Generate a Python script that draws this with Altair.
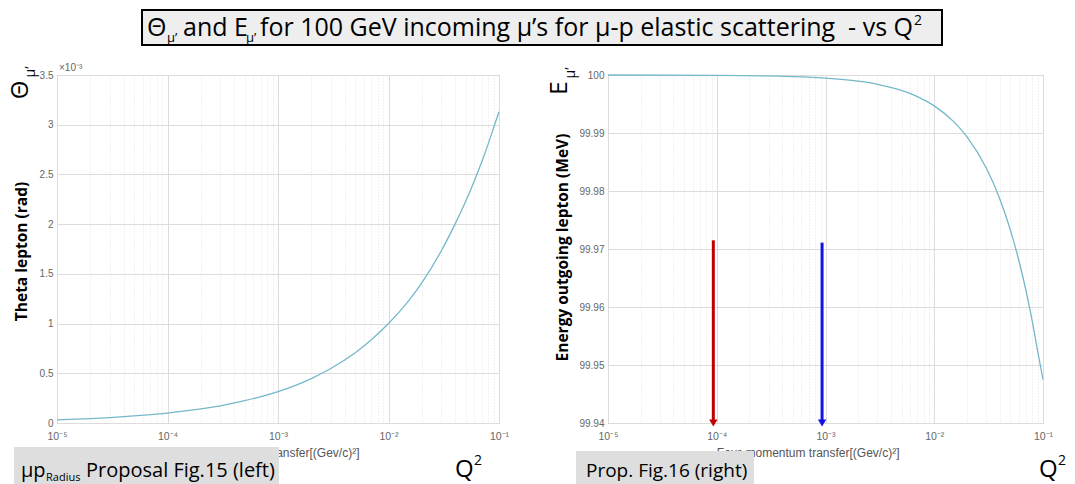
import altair as alt
import pandas as pd

# ---------------- data ----------------
q2_left = [1e-5, 2e-5, 3e-5, 5e-5, 7e-5, 1e-4, 2e-4, 3e-4, 5e-4, 7e-4, 1e-3, 2e-3, 3e-3,
           5e-3, 7e-3, 1e-2, 1.5e-2, 2e-2, 3e-2, 4e-2, 5e-2, 6e-2, 7e-2, 8e-2, 9e-2, 1e-1]
theta_left = [0.032, 0.045, 0.055, 0.071, 0.084, 0.100, 0.141, 0.173, 0.224, 0.265, 0.316,
              0.447, 0.548, 0.707, 0.837, 1.00, 1.22, 1.41, 1.73, 2.00, 2.23, 2.44, 2.63,
              2.81, 2.98, 3.13]

q2_right = [1e-5, 1e-4, 5e-4, 1e-3, 2e-3, 3e-3, 5e-3, 7e-3, 1e-2, 1.5e-2, 2e-2, 3e-2,
            4e-2, 5e-2, 6e-2, 7e-2, 8e-2, 9e-2, 1e-1]
energy_right = [100.0, 99.99995, 99.99973, 99.99947, 99.99893, 99.9984, 99.99733, 99.99627,
                99.99467, 99.992, 99.98934, 99.984, 99.97868, 99.97335, 99.96802, 99.96269,
                99.95736, 99.95203, 99.9475]

arrow_q2 = [9.3e-5, 9.3e-4]
arrow_top = [99.9715, 99.9711]
arrow_colors = ["#c00000", "#1212e6"]

x_tick_values = [m * 10.0 ** k for k in range(-5, -1) for m in range(1, 10)] + [1e-1]
y_left_ticks = [0, 0.5, 1, 1.5, 2, 2.5, 3, 3.5]
y_right_ticks = [99.94, 99.95, 99.96, 99.97, 99.98, 99.99, 100.0]

title_parts = ["Θ", "μ’", "and E", "μ’",
               "for 100 GeV incoming μ’s for μ-p elastic scattering \u00a0- vs Q", "2"]
left_label_parts = ["μp", "Radius", "Proposal Fig.15 (left)"]
right_label_parts = ["Prop. Fig.16 (right)"]
q2_parts = ["Q", "2"]
theta_parts = ["Θ", "μ’"]
energy_parts = ["E", "μ’"]
exp_text = ["×10⁻³"]
x_title = "Four-momentum transfer[(Gev/c)²]"
y_left_title = "Theta lepton (rad)"
y_right_title = "Energy outgoing lepton (MeV)"

# ---------------- styling ----------------
SLIDE_FONT = "'Open Sans', Lato, sans-serif"
AX_FONT = "Liberation Sans, Arial, sans-serif"
CURVE = "#74b8ca"
LW, RW, H = 442, 435, 348

is_major = "abs(log(datum.value)/LN10 - round(log(datum.value)/LN10)) < 0.001"
exp_expr = "round(log(datum.value)/LN10)"
label_expr = (f"!({is_major}) ? '' : ({exp_expr} == -5 ? '10⁻⁵' : {exp_expr} == -4 ? '10⁻⁴' : "
              f"{exp_expr} == -3 ? '10⁻³' : {exp_expr} == -2 ? '10⁻²' : '10⁻¹')")


def x_axis(title_right):
    return alt.Axis(values=x_tick_values, labelExpr=label_expr, title=x_title,
                    grid=True,
                    gridDash={"condition": {"test": is_major, "value": []}, "value": [1, 2]},
                    gridColor={"condition": {"test": is_major, "value": "#dcdcdc"}, "value": "#e2e2e2"},
                    ticks=False, domain=False, labelOverlap=False, labelFlush=False,
                    labelBound=False, labelPadding=8, labelFontSize=10.5, labelColor="#666",
                    labelFont=AX_FONT, titleFont=AX_FONT, titleFontSize=12,
                    titleFontWeight="normal", titleColor="#555", titlePadding=6,
                    titleAlign="right", titleX=title_right)


def y_axis(values, title, tx, ty, fmt):
    return alt.Axis(values=values, format=fmt, title=title, titleX=tx, titleY=ty,
                    titleAngle=270, titleFont=SLIDE_FONT, titleFontWeight="bold",
                    titleFontSize=15.5, titleColor="black", titleAlign="center",
                    titleBaseline="middle",
                    grid=True, gridColor="#dcdcdc", ticks=False, domain=False,
                    labelFont=AX_FONT, labelFontSize=10, labelColor="#666", labelPadding=4,
                    labelOverlap=False)


def txt(s, x, y, size, angle=0, color="black", font=SLIDE_FONT, align="left",
        baseline="alphabetic"):
    return alt.Chart(pd.DataFrame({"t": [s]})).mark_text(
        align=align, baseline=baseline, fontSize=size, font=font, color=color,
        angle=angle).encode(x=alt.value(x), y=alt.value(y), text="t:N")


def box(x1, x2, y1, y2, fill, stroke=None, sw=0):
    kw = dict(fill=fill)
    if stroke:
        kw.update(stroke=stroke, strokeWidth=sw)
    return alt.Chart(pd.DataFrame({"b": [0]})).mark_rect(**kw).encode(
        x=alt.value(x1), x2=alt.value(x2), y=alt.value(y1), y2=alt.value(y2))


xscale = alt.Scale(type="log", domain=[1e-5, 1e-1], nice=False)

# ---------------- left panel ----------------
left_df = pd.DataFrame({"q2": q2_left, "theta": theta_left})
left_line = alt.Chart(left_df).mark_line(color=CURVE, strokeWidth=1.3,
                                         interpolate="monotone").encode(
    x=alt.X("q2:Q", scale=xscale, axis=x_axis(302)),
    y=alt.Y("theta:Q", scale=alt.Scale(domain=[0, 3.5], nice=False),
            axis=y_axis(y_left_ticks, y_left_title, -36, 176, "~g")))

left = alt.layer(
    left_line,
    box(85, 885, -65, -30, "#eeeeee", "black", 2),
    txt(title_parts[0], 90, -39, 25),
    txt(title_parts[1], 110, -33, 13),
    txt(title_parts[2], 126, -39, 25),
    txt(title_parts[3], 189, -33, 13),
    txt(title_parts[4], 203, -39, 25),
    txt(title_parts[5], 857, -50, 14),
    txt(exp_text[0], 2, -4, 10, color="#666", font=AX_FONT),
    txt(theta_parts[0], -36, 15, 24, angle=270, align="center", baseline="middle"),
    txt(theta_parts[1], -26, -3, 14, angle=270, align="center", baseline="middle"),
    box(-43, 222, 372, 411, "#dedede"),
    txt(left_label_parts[0], -36, 402, 20),
    txt(left_label_parts[1], -11, 406, 11),
    txt(left_label_parts[2], 29, 402, 20),
    txt(q2_parts[0], 398, 402, 24),
    txt(q2_parts[1], 417, 390, 14),
).properties(width=LW, height=H)

# ---------------- right panel ----------------
right_df = pd.DataFrame({"q2": q2_right, "energy": energy_right})
arrow_df = pd.DataFrame({"q2": arrow_q2, "top": arrow_top, "c": arrow_colors})
yscale_r = alt.Scale(domain=[99.94, 100.0], nice=False)

right_line = alt.Chart(right_df).mark_line(color=CURVE, strokeWidth=1.3,
                                           interpolate="monotone").encode(
    x=alt.X("q2:Q", scale=xscale, axis=x_axis(291)),
    y=alt.Y("energy:Q", scale=yscale_r,
            axis=y_axis(y_right_ticks, y_right_title, -46, 172, ".4~r")))

arrows = alt.Chart(arrow_df).mark_rule(strokeWidth=3).encode(
    x=alt.X("q2:Q", scale=xscale),
    y=alt.Y("top:Q", scale=yscale_r),
    y2=alt.datum(99.9405),
    color=alt.Color("c:N", scale=None))

heads = alt.Chart(arrow_df).mark_point(shape="triangle-down", filled=True, size=70,
                                       opacity=1).encode(
    x=alt.X("q2:Q", scale=xscale),
    y=alt.datum(99.94),
    color=alt.Color("c:N", scale=None))

right = alt.layer(
    right_line, arrows, heads,
    txt(energy_parts[0], -48, 13, 24, angle=270, align="center", baseline="middle"),
    txt(energy_parts[1], -37, -2, 14, angle=270, align="center", baseline="middle"),
    box(-32, 146, 376, 411, "#dedede"),
    txt(right_label_parts[0], -22, 402, 19),
    txt(q2_parts[0], 431, 402, 24),
    txt(q2_parts[1], 450, 390, 14),
).properties(width=RW, height=H)

chart = alt.hconcat(left, right, spacing=109, bounds="flush").properties(
    padding=0, background="white"
).configure_view(stroke="#a0a0a0", strokeWidth=1)

chart.save("out.html", embed_options={"renderer": "svg", "actions": False})
